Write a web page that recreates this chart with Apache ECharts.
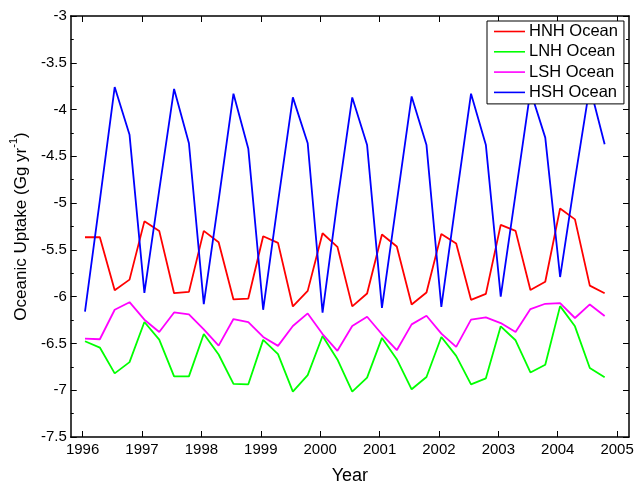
<!DOCTYPE html>
<html>
<head>
<meta charset="utf-8">
<script src="https://cdn.jsdelivr.net/npm/echarts@6/dist/echarts.min.js"></script>
<style>
html,body{margin:0;padding:0;background:#fff;}
#chart{width:639px;height:490px;}
</style>
</head>
<body>
<div id="chart"></div>
<script>
// Quarterly sample times (decimal year, mid-month of Jan/Apr/Jul/Oct)
const times = [
  1996.04, 1996.29, 1996.54, 1996.79,
  1997.04, 1997.29, 1997.54, 1997.79,
  1998.04, 1998.29, 1998.54, 1998.79,
  1999.04, 1999.29, 1999.54, 1999.79,
  2000.04, 2000.29, 2000.54, 2000.79,
  2001.04, 2001.29, 2001.54, 2001.79,
  2002.04, 2002.29, 2002.54, 2002.79,
  2003.04, 2003.29, 2003.54, 2003.79,
  2004.04, 2004.29, 2004.54, 2004.79
];
const seriesNames = ['HNH Ocean', 'LNH Ocean', 'LSH Ocean', 'HSH Ocean'];
const hnh = [
  -5.365, -5.365, -5.931, -5.818,
  -5.195, -5.297, -5.963, -5.949,
  -5.297, -5.418, -6.030, -6.020,
  -5.354, -5.425, -6.105, -5.938,
  -5.322, -5.467, -6.104, -5.966,
  -5.336, -5.464, -6.083, -5.956,
  -5.329, -5.432, -6.034, -5.970,
  -5.233, -5.297, -5.928, -5.840,
  -5.057, -5.174, -5.882, -5.963
];
const lnh = [
  -6.477, -6.544, -6.820, -6.700,
  -6.271, -6.459, -6.852, -6.852,
  -6.399, -6.618, -6.933, -6.937,
  -6.462, -6.615, -7.015, -6.838,
  -6.420, -6.671, -7.015, -6.866,
  -6.441, -6.668, -6.990, -6.859,
  -6.431, -6.633, -6.937, -6.873,
  -6.317, -6.466, -6.810, -6.728,
  -6.101, -6.317, -6.763, -6.862
];
const lsh = [
  -6.448, -6.455, -6.140, -6.059,
  -6.246, -6.377, -6.169, -6.190,
  -6.350, -6.523, -6.239, -6.271,
  -6.430, -6.526, -6.314, -6.179,
  -6.400, -6.579, -6.314, -6.215,
  -6.402, -6.572, -6.296, -6.204,
  -6.395, -6.537, -6.246, -6.222,
  -6.282, -6.377, -6.133, -6.076,
  -6.069, -6.228, -6.083, -6.207
];
const hsh = [
  -6.16, -4.97, -3.76, -4.27,
  -5.96, -4.86, -3.78, -4.36,
  -6.08, -4.97, -3.83, -4.42,
  -6.14, -4.99, -3.87, -4.36,
  -6.17, -4.98, -3.87, -4.38,
  -6.12, -4.99, -3.86, -4.38,
  -6.11, -4.96, -3.83, -4.38,
  -6.00, -4.90, -3.80, -4.30,
  -5.79, -4.75, -3.75, -4.37
];
const xTickValues = [1996, 1997, 1998, 1999, 2000, 2001, 2002, 2003, 2004, 2005];
const colors = ['#ff0000', '#00ff00', '#ff00ff', '#0000ff'];

const FONT = 'Liberation Sans, Arial, Helvetica, sans-serif';
const chart = echarts.init(document.getElementById('chart'), null, {renderer: 'canvas'});

function pairs(vals) { return times.map((t, i) => [t, vals[i]]); }
const allVals = [hnh, lnh, lsh, hsh];
const lineIcon = 'path://M0,0 L31,0 L31,1.6 L0,1.6 Z';

const baseX = {
  type: 'value', min: 1995.8, max: 2005.2,
  splitLine: {show: false},
  axisLine: {show: true, onZero: false, lineStyle: {color: '#000', width: 1.5}},
  axisTick: {show: true, inside: true, length: 6, customValues: xTickValues, lineStyle: {color: '#000', width: 1}},
  minorTick: {show: false}
};
const baseY = {
  type: 'value', min: -7.5, max: -3, interval: 0.5,
  splitLine: {show: false},
  axisLine: {show: true, onZero: false, lineStyle: {color: '#000', width: 1.5}},
  axisTick: {show: true, inside: true, length: 6, lineStyle: {color: '#000', width: 1}},
  minorTick: {show: true, splitNumber: 2, length: 3, lineStyle: {color: '#000', width: 1}},
  minorSplitLine: {show: false}
};

const option = {
  backgroundColor: '#fff',
  animation: false,
  grid: {left: 68, top: 16, right: 10, bottom: 51, containLabel: false},
  xAxis: [
    Object.assign({}, baseX, {
      position: 'bottom',
      name: 'Year', nameLocation: 'middle', nameGap: 30,
      nameTextStyle: {fontFamily: FONT, fontSize: 18, color: '#000'},
      axisLabel: {show: true, customValues: xTickValues, fontFamily: FONT, fontSize: 15, color: '#000', margin: 5,
        formatter: v => String(Math.round(v))}
    }),
    Object.assign({}, baseX, {position: 'top', axisLabel: {show: false}})
  ],
  yAxis: [
    Object.assign({}, baseY, {
      position: 'left',
      name: '{a|Oceanic Uptake (Gg yr}{s|-1}{a|)}',
      nameLocation: 'middle', nameGap: 36, nameRotate: 90,
      nameTextStyle: {
        color: '#000', fontFamily: FONT, fontSize: 17,
        rich: {
          a: {fontFamily: FONT, fontSize: 17, color: '#000', lineHeight: 22, verticalAlign: 'bottom'},
          s: {fontFamily: FONT, fontSize: 11, color: '#000', lineHeight: 22, verticalAlign: 'top'}
        }
      },
      axisLabel: {show: true, fontFamily: FONT, fontSize: 15, color: '#000', margin: 4,
        formatter: v => String(Math.round(v * 10) / 10)}
    }),
    Object.assign({}, baseY, {position: 'right', axisLabel: {show: false}})
  ],
  legend: {
    show: true,
    data: seriesNames.map((n, i) => ({name: n, icon: lineIcon, itemStyle: {color: colors[i]}})),
    orient: 'vertical',
    left: 487, top: 21,
    padding: [2, 6, 3, 7],
    itemWidth: 31, itemHeight: 17, itemGap: 3.3,
    backgroundColor: '#fff',
    borderColor: '#000', borderWidth: 1,
    textStyle: {fontFamily: FONT, fontSize: 16.5, color: '#000', lineHeight: 17, padding: [0, 0, 0, -1]},
    z: 10
  },
  series: seriesNames.map((n, i) => ({
    name: n, type: 'line',
    xAxisIndex: 0, yAxisIndex: 0,
    data: pairs(allVals[i]),
    symbol: 'none', showSymbol: false,
    lineStyle: {color: colors[i], width: 1.8},
    itemStyle: {color: colors[i]},
    emphasis: {disabled: true},
    clip: true
  }))
};
chart.setOption(option);
</script>
</body>
</html>
